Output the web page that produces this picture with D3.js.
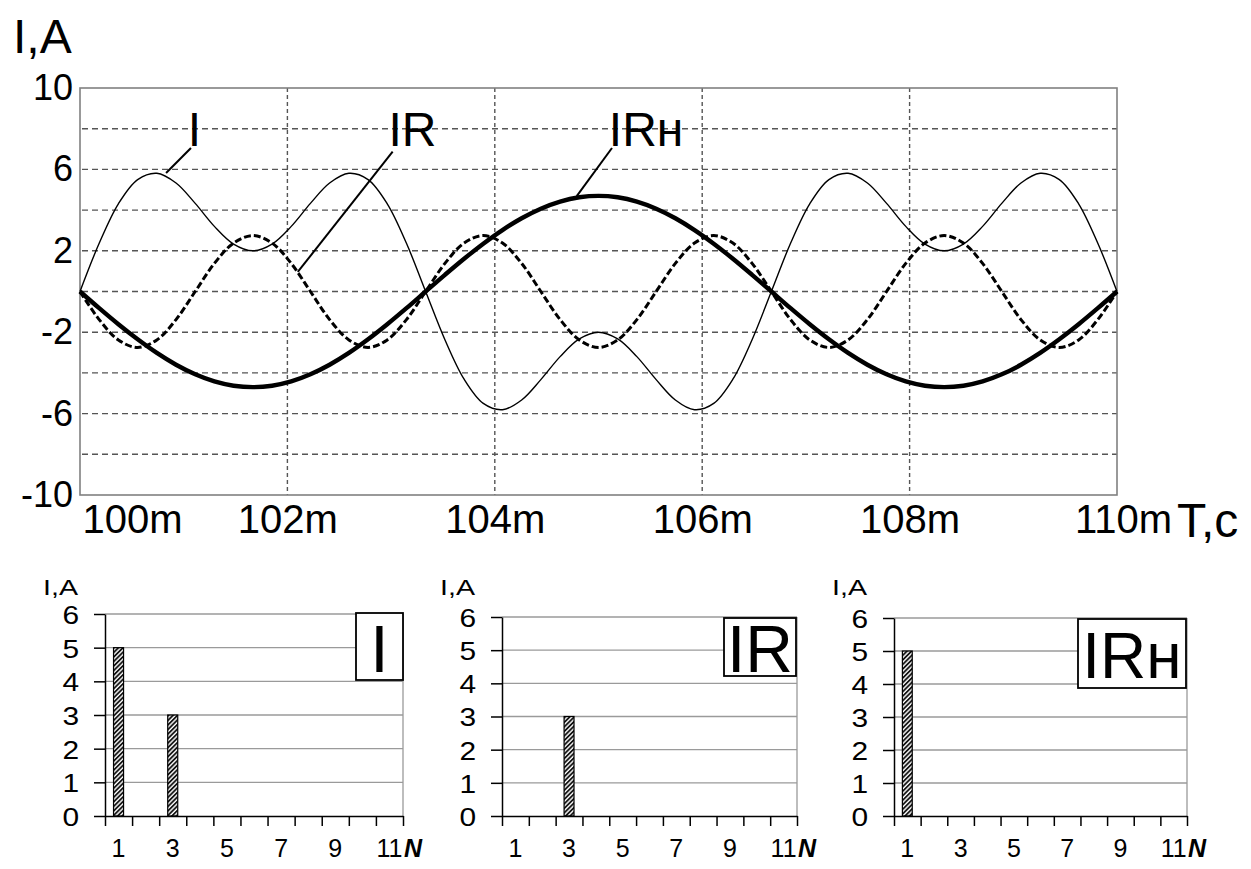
<!DOCTYPE html>
<html>
<head>
<meta charset="utf-8">
<script src="https://cdn.jsdelivr.net/npm/d3@7"></script>
<style>
  body { margin: 0; background: #fff; }
  svg { display: block; font-family: 'Liberation Sans', Arial, sans-serif; }
</style>
</head>
<body>
<div id="chart"></div>
<script>
// time samples, ms
const timeMs = [
  100.000, 100.185, 100.370, 100.556, 100.741, 100.926, 101.111, 101.296, 101.481, 101.667,
  101.852, 102.037, 102.222, 102.407, 102.593, 102.778, 102.963, 103.148, 103.333, 103.519,
  103.704, 103.889, 104.074, 104.259, 104.444, 104.630, 104.815, 105.000, 105.185, 105.370,
  105.556, 105.741, 105.926, 106.111, 106.296, 106.481, 106.667, 106.852, 107.037, 107.222,
  107.407, 107.593, 107.778, 107.963, 108.148, 108.333, 108.519, 108.704, 108.889, 109.074,
  109.259, 109.444, 109.630, 109.815, 110.000
]

// total current I, A
const currentI = [
  0, 2.37, 4.31, 5.5, 5.81, 5.33, 4.33, 3.2, 2.33, 2.0,
  2.33, 3.2, 4.33, 5.33, 5.81, 5.5, 4.31, 2.37, 0, -2.37,
  -4.31, -5.5, -5.81, -5.33, -4.33, -3.2, -2.33, -2.0, -2.33, -3.2,
  -4.33, -5.33, -5.81, -5.5, -4.31, -2.37, 0, 2.37, 4.31, 5.5,
  5.81, 5.33, 4.33, 3.2, 2.33, 2.0, 2.33, 3.2, 4.33, 5.33,
  5.81, 5.5, 4.31, 2.37, 0
]

// IR, dashed
const currentIR = [
  0, -1.38, -2.38, -2.75, -2.38, -1.38, 0, 1.38, 2.38, 2.75,
  2.38, 1.38, 0, -1.38, -2.38, -2.75, -2.38, -1.38, 0, 1.38,
  2.38, 2.75, 2.38, 1.38, 0, -1.38, -2.38, -2.75, -2.38, -1.38,
  0, 1.38, 2.38, 2.75, 2.38, 1.38, 0, -1.38, -2.38, -2.75,
  -2.38, -1.38, 0, 1.38, 2.38, 2.75, 2.38, 1.38, 0, -1.38,
  -2.38, -2.75, -2.38, -1.38, 0
]

// IRн, thick
const currentIRn = [
  0, -0.82, -1.61, -2.35, -3.02, -3.6, -4.07, -4.42, -4.63, -4.7,
  -4.63, -4.42, -4.07, -3.6, -3.02, -2.35, -1.61, -0.82, 0, 0.82,
  1.61, 2.35, 3.02, 3.6, 4.07, 4.42, 4.63, 4.7, 4.63, 4.42,
  4.07, 3.6, 3.02, 2.35, 1.61, 0.82, 0, -0.82, -1.61, -2.35,
  -3.02, -3.6, -4.07, -4.42, -4.63, -4.7, -4.63, -4.42, -4.07, -3.6,
  -3.02, -2.35, -1.61, -0.82, 0
]

const yTickLabels = [10, 6, 2, -2, -6, -10]
const yGridValues = [-8, -6, -4, -2, 0, 2, 4, 6, 8]
const xTickValues = [100, 102, 104, 106, 108, 110]
const xGridValues = [102, 104, 106, 108]

// harmonic spectra
const harmonics = [1, 2, 3, 4, 5, 6, 7, 8, 9, 10, 11]
const oddHarmonics = [1, 3, 5, 7, 9, 11]
const spectrumI = [5, 0, 3, 0, 0, 0, 0, 0, 0, 0, 0]
const spectrumIR = [0, 0, 3, 0, 0, 0, 0, 0, 0, 0, 0]
const spectrumIRn = [5, 0, 0, 0, 0, 0, 0, 0, 0, 0, 0]
const spectrumTicks = [0, 1, 2, 3, 4, 5, 6]

const svg = d3.select('#chart')
  .append('svg')
  .attr('width', 1251)
  .attr('height', 869)

// ---------- top: waveforms ----------
const plot = { left: 80, top: 88, right: 1117, bottom: 495 }

const x = d3.scaleLinear().domain([100, 110]).range([plot.left, plot.right])
const y = d3.scaleLinear().domain([-10, 10]).range([plot.bottom, plot.top])

svg.selectAll('.hgrid')
  .data(yGridValues)
  .enter()
  .append('line')
  .attr('class', 'hgrid')
  .attr('x1', plot.left + 2).attr('x2', plot.right)
  .attr('y1', d => y(d)).attr('y2', d => y(d))
  .attr('stroke', '#555')
  .attr('stroke-width', 1.4)
  .attr('stroke-dasharray', '6,4')

svg.selectAll('.vgrid')
  .data(xGridValues)
  .enter()
  .append('line')
  .attr('class', 'vgrid')
  .attr('x1', d => x(d)).attr('x2', d => x(d))
  .attr('y1', plot.top).attr('y2', plot.bottom)
  .attr('stroke', '#555')
  .attr('stroke-width', 1.4)
  .attr('stroke-dasharray', '4,3')

svg.append('rect')
  .attr('x', plot.left).attr('y', plot.top)
  .attr('width', plot.right - plot.left)
  .attr('height', plot.bottom - plot.top)
  .attr('fill', 'none')
  .attr('stroke', '#808080')
  .attr('stroke-width', 1.6)

// y tick labels
const yAxis = svg.append('g')
  .attr('transform', `translate(${plot.left},0)`)
  .call(d3.axisLeft(y).tickValues(yTickLabels).tickSize(0).tickPadding(7).tickFormat(d => String(d)))
yAxis.select('.domain').remove()
yAxis.selectAll('text')
  .attr('font-size', 36)
  .attr('font-family', "'Liberation Sans', Arial, sans-serif")
  .attr('fill', '#000')

// x tick labels
const xAxis = svg.append('g')
  .attr('transform', `translate(0,${plot.bottom})`)
  .call(d3.axisBottom(x).tickValues(xTickValues).tickSize(0).tickPadding(10).tickFormat(d => d + 'm'))
xAxis.select('.domain').remove()
xAxis.selectAll('text')
  .attr('font-size', 40)
  .attr('font-family', "'Liberation Sans', Arial, sans-serif")
  .attr('fill', '#000')
  .attr('text-anchor', (d, i) => i === 0 ? 'start' : 'middle')
  .attr('dx', (d, i) => i === 0 ? 2 : (i === xTickValues.length - 1 ? 6 : 0))

svg.append('text')
  .attr('x', 13).attr('y', 53)
  .attr('font-size', 48)
  .text('I,A')

svg.append('text')
  .attr('x', 1177).attr('y', 537)
  .attr('font-size', 48)
  .text('T,c')

const line = d3.line()
  .x((d, i) => x(timeMs[i]))
  .y(d => y(d))
  .curve(d3.curveCatmullRom)

svg.append('path')
  .datum(currentI)
  .attr('d', line)
  .attr('fill', 'none')
  .attr('stroke', '#000')
  .attr('stroke-width', 1.4)

svg.append('path')
  .datum(currentIR)
  .attr('d', line)
  .attr('fill', 'none')
  .attr('stroke', '#000')
  .attr('stroke-width', 3)
  .attr('stroke-dasharray', '7,3')

svg.append('path')
  .datum(currentIRn)
  .attr('d', line)
  .attr('fill', 'none')
  .attr('stroke', '#000')
  .attr('stroke-width', 4.4)

// curve labels with leader lines (data coords)
const curveLabels = [
  { text: 'I', tx: 101.04, tv: 7.15, from: [101.07, 7.05], to: [100.83, 5.82] },
  { text: 'IR', tx: 102.975, tv: 7.15, from: [103.015, 6.87], to: [102.10, 0.96] },
  { text: 'IRн', tx: 105.10, tv: 7.15, from: [105.13, 7.05], to: [104.79, 4.69] }
]

svg.selectAll('.leader')
  .data(curveLabels)
  .enter()
  .append('line')
  .attr('class', 'leader')
  .attr('x1', d => x(d.from[0])).attr('y1', d => y(d.from[1]))
  .attr('x2', d => x(d.to[0])).attr('y2', d => y(d.to[1]))
  .attr('stroke', '#000')
  .attr('stroke-width', 2)

svg.selectAll('.curve-label')
  .data(curveLabels)
  .enter()
  .append('text')
  .attr('class', 'curve-label')
  .attr('x', d => x(d.tx))
  .attr('y', d => y(d.tv))
  .attr('font-size', 48)
  .text(d => d.text)

// ---------- bottom: spectra ----------
const defs = svg.append('defs')
defs.append('pattern')
  .attr('id', 'hatch')
  .attr('patternUnits', 'userSpaceOnUse')
  .attr('width', 3.2).attr('height', 3.2)
  .attr('patternTransform', 'rotate(45)')
  .call(p => p.append('rect').attr('width', 3.2).attr('height', 3.2).attr('fill', '#fff'))
  .call(p => p.append('line')
    .attr('x1', 1).attr('x2', 1).attr('y1', 0).attr('y2', 3.2)
    .attr('stroke', '#000').attr('stroke-width', 1.7))

const panels = [
  { name: 'I', values: spectrumI, left: 105, right: 403, top: 614,
    box: { x: 356, y: 613, w: 47, h: 67, base: 8 }, size: 66 },
  { name: 'IR', values: spectrumIR, left: 502, right: 797, top: 617,
    box: { x: 724, y: 618, w: 72, h: 58, base: 4 }, size: 66 },
  { name: 'IRн', values: spectrumIRn, left: 894, right: 1187, top: 618,
    box: { x: 1078, y: 619, w: 108, h: 69, base: 10 }, size: 64 }
]
const spectrumBottom = 816

panels.forEach(p => {
  const g = svg.append('g')
  const xb = d3.scaleLinear().domain([0.5, 11.5]).range([p.left, p.right])
  const yb = d3.scaleLinear().domain([0, 6]).range([spectrumBottom, p.top])

  g.selectAll('.sgrid')
    .data(spectrumTicks.slice(1))
    .enter()
    .append('line')
    .attr('x1', p.left).attr('x2', p.right)
    .attr('y1', d => yb(d)).attr('y2', d => yb(d))
    .attr('stroke', '#9a9a9a')
    .attr('stroke-width', 1.3)

  g.append('line')
    .attr('x1', p.right).attr('x2', p.right)
    .attr('y1', p.top).attr('y2', spectrumBottom)
    .attr('stroke', '#9a9a9a')
    .attr('stroke-width', 1.3)

  const bars = harmonics.map((n, i) => ({ n: n, v: p.values[i] })).filter(d => d.v > 0)
  g.selectAll('.bar')
    .data(bars)
    .enter()
    .append('rect')
    .attr('x', d => xb(d.n - 0.185))
    .attr('width', d => xb(d.n + 0.185) - xb(d.n - 0.185))
    .attr('y', d => yb(d.v))
    .attr('height', d => yb(0) - yb(d.v))
    .attr('fill', 'url(#hatch)')
    .attr('stroke', '#000')
    .attr('stroke-width', 1.2)

  const ya = g.append('g')
    .attr('transform', `translate(${p.left},0)`)
    .call(d3.axisLeft(yb).tickValues(spectrumTicks).tickSize(11).tickSizeOuter(0).tickFormat(d => String(d)))
  ya.selectAll('line, path').attr('stroke', '#000').attr('stroke-width', 1.5)
  ya.selectAll('text')
    .attr('x', 0)
    .attr('dy', '0.36em')
    .attr('transform', 'translate(-26,0) scale(1.15,1)')
    .attr('font-size', 26)
    .attr('font-family', "'Liberation Sans', Arial, sans-serif")
    .attr('fill', '#000')

  const xa = g.append('g')
    .attr('transform', `translate(0,${spectrumBottom})`)
    .call(d3.axisBottom(xb).tickValues(harmonics.map(n => n - 0.5).concat([11.5]))
      .tickSize(10).tickSizeOuter(0).tickFormat(''))
  xa.selectAll('line, path').attr('stroke', '#000').attr('stroke-width', 1.5)

  g.selectAll('.nlabel')
    .data(oddHarmonics)
    .enter()
    .append('text')
    .attr('x', d => xb(d))
    .attr('y', 857)
    .attr('text-anchor', 'middle')
    .attr('font-size', 25)
    .text(d => d)

  g.append('text')
    .attr('x', p.right + 1).attr('y', 857)
    .attr('font-size', 25)
    .attr('font-weight', 'bold')
    .attr('font-style', 'italic')
    .text('N')

  g.append('text')
    .attr('transform', `translate(${p.left - 62},595) scale(1.3,1)`)
    .attr('font-size', 22)
    .text('I,A')

  g.append('rect')
    .attr('x', p.box.x).attr('y', p.box.y)
    .attr('width', p.box.w).attr('height', p.box.h)
    .attr('fill', '#fff')
    .attr('stroke', '#000')
    .attr('stroke-width', 1.8)

  g.append('text')
    .attr('x', p.box.x + p.box.w / 2)
    .attr('y', p.box.y + p.box.h - p.box.base)
    .attr('text-anchor', 'middle')
    .attr('font-size', p.size)
    .text(p.name)
})
</script>
</body>
</html>
